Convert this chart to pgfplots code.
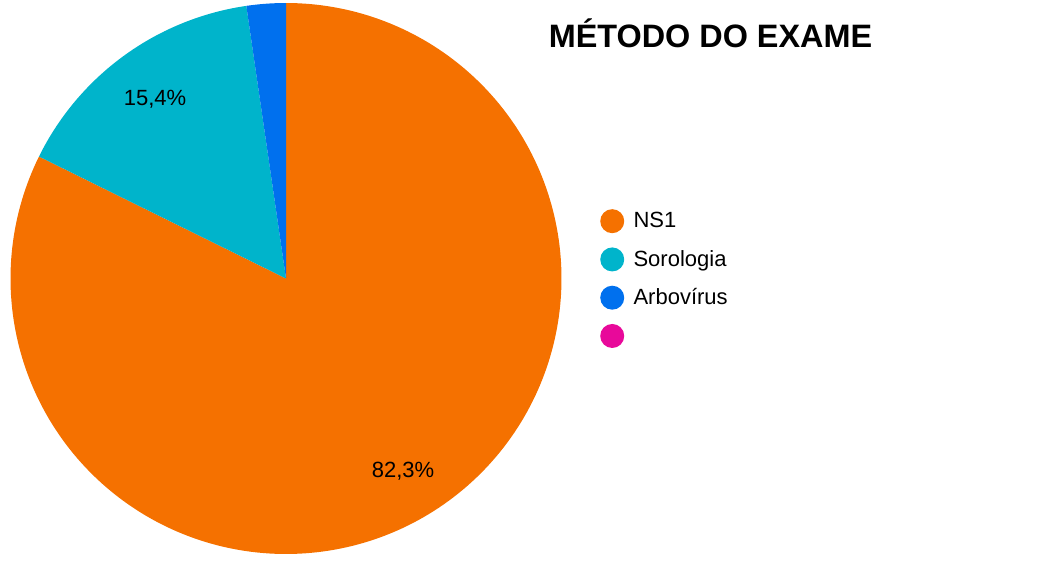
\documentclass[border=0pt]{standalone}
\usepackage{fontspec}
\setmainfont{Liberation Sans}
\usepackage{pgfplots}
\pgfplotsset{compat=1.18}
\usepackage{pgfplotstable}

\definecolor{cOrange}{HTML}{F57100}
\definecolor{cTeal}{HTML}{00B4CB}
\definecolor{cBlue}{HTML}{0070EE}
\definecolor{cPink}{HTML}{E8099A}

% shares (%) of each exam method
\pgfplotstableread{
metodo valor
NS1 82.3
Sorologia 15.4
Arbovirus 2.3
Outro 0.0
}\dados

\pgfplotstablegetelem{0}{valor}\of\dados \let\vA\pgfplotsretval
\pgfplotstablegetelem{1}{valor}\of\dados \let\vB\pgfplotsretval
\pgfplotstablegetelem{2}{valor}\of\dados \let\vC\pgfplotsretval
% slices run clockwise from 12 o'clock
\pgfmathsetmacro{\aA}{90}
\pgfmathsetmacro{\bA}{\aA-\vA*3.6}
\pgfmathsetmacro{\bB}{\bA-\vB*3.6}
\pgfmathsetmacro{\bC}{\bB-\vC*3.6}
\def\cx{286}\def\cy{282.5}\def\rr{275.5}

\begin{document}
\begin{tikzpicture}
\begin{axis}[
    scale only axis,
    width=782.25pt, height=420.75pt,
    xmin=0, xmax=1043, ymin=0, ymax=561,
    hide axis,
    clip=false,
    legend style={draw=none, fill=none,
        at={(0.5714,0.6451)}, anchor=north west,
        font=\fontsize{16.5}{18}\selectfont,
        nodes={inner sep=0pt, minimum height=28.7pt},
        /tikz/every odd column/.append style={column sep=7pt}},
    legend cell align=left,
    legend image code/.code={\fill[#1] (9pt,0pt) circle (9pt);},
]
\addplot[fill=cOrange, draw=none, domain=\bA:\aA, samples=240]
    ({\cx+\rr*cos(x)}, {\cy+\rr*sin(x)}) -- (axis cs:\cx,\cy) -- cycle;
\addplot[fill=cTeal, draw=none, domain=\bB:\bA, samples=60]
    ({\cx+\rr*cos(x)}, {\cy+\rr*sin(x)}) -- (axis cs:\cx,\cy) -- cycle;
\addplot[fill=cBlue, draw=none, domain=\bC:\bB, samples=20]
    ({\cx+\rr*cos(x)}, {\cy+\rr*sin(x)}) -- (axis cs:\cx,\cy) -- cycle;
\addlegendentry{NS1}
\addlegendentry{Sorologia}
\addlegendentry{Arbovírus}
\addlegendimage{fill=cPink, draw=none}
\addlegendentry{}

\node[font=\fontsize{16.5}{18}\selectfont] at (axis cs:155,462) {15,4\%};
\node[font=\fontsize{16.5}{18}\selectfont] at (axis cs:403,90) {82,3\%};
\node[font=\fontsize{24.3}{28}\selectfont\bfseries, anchor=base] at (axis cs:710.5,513) {MÉTODO DO EXAME};
\coordinate (bbSW) at (axis cs:0,0);
\coordinate (bbNE) at (axis cs:1043,561);
\end{axis}
\pgfresetboundingbox
\path (bbSW) rectangle (bbNE);
\end{tikzpicture}
\end{document}
